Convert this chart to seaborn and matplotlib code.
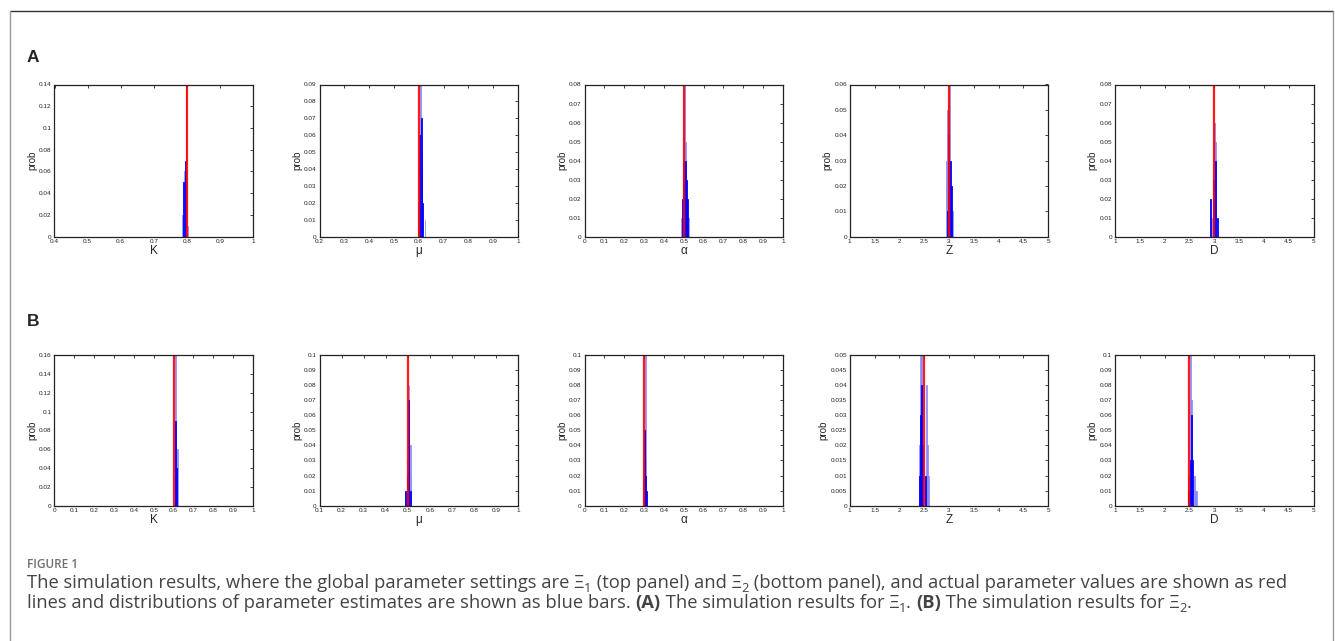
import numpy as np
import matplotlib
matplotlib.use("Agg")
import matplotlib.pyplot as plt
import seaborn as sns
from matplotlib.ticker import MultipleLocator, FuncFormatter
from matplotlib.lines import Line2D

# ---------------- data ----------------
param_names = ["K", "μ", "α", "Z", "D"]

# row A (Xi_1)
A_true = [0.8, 0.6, 0.5, 3.0, 3.0]
A_xlim = [(0.4, 1.0), (0.2, 1.0), (0.0, 1.0), (1.0, 5.0), (1.0, 5.0)]
A_xstep = [0.1, 0.1, 0.1, 0.5, 0.5]
A_ymax = [0.14, 0.09, 0.08, 0.06, 0.08]
A_ystep = [0.02, 0.01, 0.01, 0.01, 0.01]
A_binw = [0.0025, 0.003, 0.005, 0.02, 0.02]
A_light_x = [[0.7875, 0.7925, 0.7975, 0.8025],
             [0.598, 0.607, 0.613, 0.625],
             [0.490, 0.505, 0.510, 0.525],
             [2.96, 2.98, 3.02, 3.08],
             [2.95, 3.01, 3.03]]
A_light_p = [[0.02, 0.06, 0.14, 0.01],
             [0.02, 0.09, 0.05, 0.01],
             [0.01, 0.08, 0.05, 0.01],
             [0.03, 0.05, 0.06, 0.01],
             [0.01, 0.06, 0.05]]
A_dark_x = [[0.790, 0.795],
            [0.601, 0.604, 0.610, 0.613, 0.616],
            [0.495, 0.500, 0.510, 0.515, 0.520],
            [2.98, 3.00, 3.04, 3.06],
            [2.93, 2.99, 3.03, 3.07]]
A_dark_p = [[0.05, 0.07],
            [0.03, 0.06, 0.07, 0.04, 0.02],
            [0.02, 0.04, 0.04, 0.03, 0.02],
            [0.01, 0.04, 0.03, 0.02],
            [0.02, 0.03, 0.04, 0.01]]

# row B (Xi_2)
B_true = [0.6, 0.5, 0.3, 2.5, 2.5]
B_xlim = [(0.0, 1.0), (0.1, 1.0), (0.0, 1.0), (1.0, 5.0), (1.0, 5.0)]
B_xstep = [0.1, 0.1, 0.1, 0.5, 0.5]
B_ymax = [0.16, 0.10, 0.10, 0.05, 0.10]
B_ystep = [0.02, 0.01, 0.01, 0.005, 0.01]
B_binw = [0.004, 0.003, 0.004, 0.02, 0.02]
B_light_x = [[0.610, 0.618],
             [0.488, 0.497, 0.506, 0.512, 0.515],
             [0.298, 0.306, 0.310],
             [2.40, 2.42, 2.44, 2.54, 2.56, 2.58],
             [2.48, 2.52, 2.54, 2.60, 2.62, 2.64]]
B_light_p = [[0.16, 0.06],
             [0.01, 0.03, 0.08, 0.04, 0.02],
             [0.02, 0.10, 0.03],
             [0.02, 0.05, 0.05, 0.04, 0.02, 0.01],
             [0.02, 0.10, 0.07, 0.02, 0.01, 0.01]]
B_dark_x = [[0.607, 0.611, 0.615],
            [0.491, 0.500, 0.503, 0.506, 0.512],
            [0.302, 0.306, 0.314],
            [2.40, 2.42, 2.44, 2.46, 2.52],
            [2.48, 2.52, 2.54, 2.56]]
B_dark_p = [[0.03, 0.09, 0.04],
            [0.01, 0.02, 0.07, 0.04, 0.01],
            [0.05, 0.02, 0.01],
            [0.01, 0.03, 0.04, 0.02, 0.01],
            [0.01, 0.03, 0.06, 0.03]]

caption_head = "FIGURE 1"

# ---------------- style ----------------
sns.set_style("white")
plt.rcParams["font.family"] = ["Liberation Sans", "DejaVu Sans"]

W, H = 1335, 641
fig = plt.figure(figsize=(W / 100, H / 100), dpi=100)

col_left_px = [54.5, 319.5, 584.5, 849.7, 1115.0]
ax_w_px = 198.5
rows = [
    dict(top=84.5, bot=236.7, true=A_true, xlim=A_xlim, xstep=A_xstep, ymax=A_ymax,
         ystep=A_ystep, bw=A_binw, lx=A_light_x, lp=A_light_p, dx=A_dark_x, dp=A_dark_p),
    dict(top=355.0, bot=505.7, true=B_true, xlim=B_xlim, xstep=B_xstep, ymax=B_ymax,
         ystep=B_ystep, bw=B_binw, lx=B_light_x, lp=B_light_p, dx=B_dark_x, dp=B_dark_p),
]

def gfmt(v, pos):
    s = ("%.4f" % v).rstrip("0").rstrip(".")
    if s in ("-0", ""):
        s = "0"
    return s

for r in rows:
    for i in range(5):
        ax = fig.add_axes([col_left_px[i] / W, 1 - r["bot"] / H, ax_w_px / W, (r["bot"] - r["top"]) / H])
        bw = r["bw"][i]
        lx = np.array(r["lx"][i]); lp = np.array(r["lp"][i])
        dx = np.array(r["dx"][i]); dp = np.array(r["dp"][i])
        sns.histplot(x=lx, weights=lp, binwidth=bw,
                     binrange=(lx.min() - bw / 2, lx.max() + bw / 2),
                     color=(0.0, 0.0, 1.0), alpha=0.3, linewidth=0.6,
                     edgecolor=(0.55, 0.55, 1.0), ax=ax)
        sns.histplot(x=dx, weights=dp, binwidth=bw,
                     binrange=(dx.min() - bw / 2, dx.max() + bw / 2),
                     color=(0.0, 0.0, 1.0), alpha=0.9, linewidth=0.6,
                     edgecolor=(0.0, 0.0, 1.0), ax=ax)
        ax.axvline(r["true"][i], color=(1.0, 0.0, 0.0), lw=1.6, alpha=0.9)
        ax.set_xlim(*r["xlim"][i])
        ax.set_ylim(0, r["ymax"][i])
        ax.xaxis.set_major_locator(MultipleLocator(r["xstep"][i]))
        ax.yaxis.set_major_locator(MultipleLocator(r["ystep"][i]))
        ax.xaxis.set_major_formatter(FuncFormatter(gfmt))
        ax.yaxis.set_major_formatter(FuncFormatter(gfmt))
        ax.tick_params(direction="in", length=2, width=0.6, labelsize=4.6,
                       top=True, right=True, pad=2, colors="#222222")
        for sp in ax.spines.values():
            sp.set_visible(True)
            sp.set_color("#222222")
            sp.set_linewidth(0.9)
        ax.set_xlabel(param_names[i], fontsize=8.5, labelpad=0.5)
        ax.set_ylabel("prob", fontsize=7, labelpad=1.5)
        ax.set_facecolor("white")

# panel letters
fig.text(27 / W, 1 - 57 / H, "A", fontsize=12.5, fontweight="bold", va="center", ha="left",
         family=["Liberation Sans"])
fig.text(27 / W, 1 - 321 / H, "B", fontsize=12.5, fontweight="bold", va="center", ha="left",
         family=["Liberation Sans"])

# outer frame
fig.add_artist(Line2D([9.5 / W, 1332.5 / W], [1 - 11 / H, 1 - 11 / H], color="#333333", lw=1.0,
                      transform=fig.transFigure))
fig.add_artist(Line2D([9.5 / W, 9.5 / W], [1 - 11 / H, 0], color="#999999", lw=1.0,
                      transform=fig.transFigure))
fig.add_artist(Line2D([1332.5 / W, 1332.5 / W], [1 - 11 / H, 0], color="#999999", lw=1.0,
                      transform=fig.transFigure))

# caption
cap_family = ["Open Sans", "DejaVu Sans"]
fig.text(27 / W, 1 - 564 / H, caption_head, fontsize=8.5, fontweight="semibold",
         color="#707070", va="center", family=cap_family)

renderer = fig.canvas.get_renderer()

def run_width(s, size, weight):
    t1 = fig.text(0, 0, "x" + s + "x", fontsize=size, fontweight=weight, family=cap_family)
    t2 = fig.text(0, 0, "xx", fontsize=size, fontweight=weight, family=cap_family)
    w = t1.get_window_extent(renderer).width - t2.get_window_extent(renderer).width
    t1.remove(); t2.remove()
    return w

def draw_runs(x_px, y_px, runs, size, color):
    x = x_px
    for s, weight, sub in runs:
        sz = size * 0.7 if sub else size
        dy = 4 if sub else 0
        fig.text(x / W, 1 - (y_px + dy) / H, s, fontsize=sz, fontweight=weight, color=color,
                 va="baseline", ha="left", family=cap_family)
        x += run_width(s, sz, weight)

cap_size = 13.25
cap_color = "#444444"
line1 = [("The simulation results, where the global parameter settings are Ξ", "normal", False),
         ("1", "normal", True),
         (" (top panel) and Ξ", "normal", False),
         ("2", "normal", True),
         (" (bottom panel), and actual parameter values are shown as red", "normal", False)]
line2 = [("lines and distributions of parameter estimates are shown as blue bars. ", "normal", False),
         ("(A)", "bold", False),
         (" The simulation results for Ξ", "normal", False),
         ("1", "normal", True),
         (". ", "normal", False),
         ("(B)", "bold", False),
         (" The simulation results for Ξ", "normal", False),
         ("2", "normal", True),
         (".", "normal", False)]
draw_runs(27, 588, line1, cap_size, cap_color)
draw_runs(27, 608, line2, cap_size, cap_color)

fig.savefig("out.png", dpi=100, facecolor="white")
